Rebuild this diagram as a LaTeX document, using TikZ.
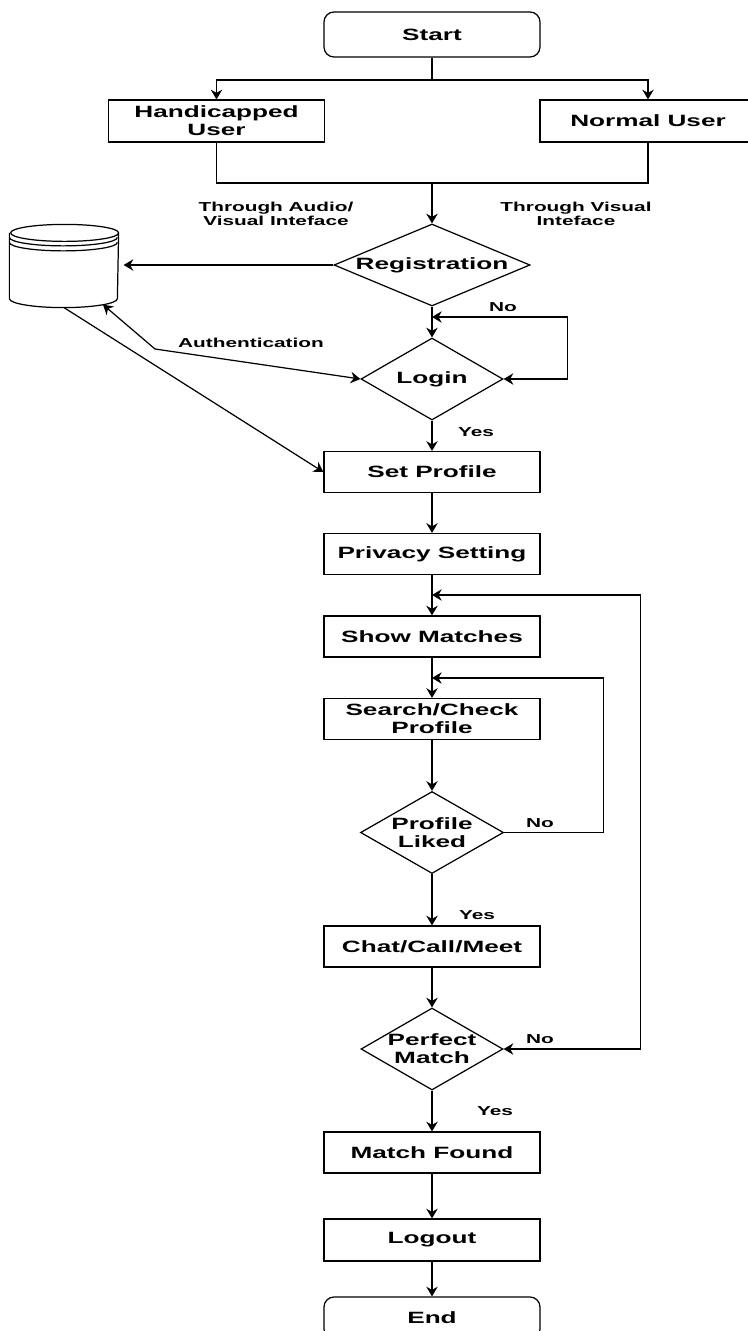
\documentclass[tikz,border=0pt]{standalone}
\usepackage{fontspec}
\setmainfont{Liberation Sans}[FakeStretch=1.6]
\usetikzlibrary{shapes.geometric,arrows.meta}
\tikzset{
	box/.style={draw, minimum width=4.32cm, minimum height=0.82cm, inner sep=0pt, align=center, font=\fontsize{9.3}{10.3}\selectfont\bfseries},
	term/.style={box, rounded corners=0.2cm, minimum height=0.9cm},
	dec/.style={draw, diamond, inner sep=0pt, minimum width=#1, minimum height=1.64cm},
	dtxt/.style={align=center, font=\fontsize{9.3}{10.3}\selectfont\bfseries},
	lbl/.style={align=center, font=\fontsize{7.4}{8.2}\selectfont\bfseries}
}
\begin{document}
\begin{tikzpicture}[line width=0.7pt, >={Stealth[length=5.5pt,width=6.5pt]}]
		\useasboundingbox (0,0) rectangle (14.96,-26.62);
		
		\node[term] (start) at (8.64,-0.69) {Start};
		\node[box, minimum height=0.84cm] (handi) at (4.33,-2.42) {Handicapped\\User};
		\node[box, minimum height=0.84cm] (normal) at (12.96,-2.42) {Normal User};
		\coordinate (split) at (8.64,-1.60); \coordinate (merge) at (8.64,-3.66);
		\draw (start) -- (split); \draw[->] (split) -| (handi.north); \draw[->] (split) -| (normal.north);
		\draw (handi.south) |- (merge) -| (normal.south);
		\node[lbl] at (5.52,-4.28) {Through Audio/\\Visual Inteface};
		\node[lbl] at (11.52,-4.28) {Through Visual\\Inteface};
		
		\node[dec=3.92cm, label={[dtxt]center:Registration}] (reg) at (8.64,-5.30) {};
		\draw[->] (merge) -- (reg);
		
		\node[minimum width=2.16cm, minimum height=1.64cm, inner sep=0pt] (db) at (1.28,-5.32) {};
		\draw ([yshift=-0.17cm]db.north west) -- ([yshift=0.18cm]db.south west) arc[start angle=180, end angle=360, x radius=1.08cm, y radius=0.18cm] -- ([yshift=-0.17cm]db.north east) arc[start angle=0, end angle=360, x radius=1.08cm, y radius=0.17cm];
		\foreach \d in {0.26,0.36} \draw ([yshift=-\d cm]db.north west) arc[start angle=180, end angle=360, x radius=1.08cm, y radius=0.17cm];
		\draw[->, shorten >=0.1cm] (reg.west) -- (reg.west -| db.east);
		
		\node[dec=2.84cm, label={[dtxt]center:Login}] (login) at (8.64,-7.58) {};
		\coordinate (nol) at (8.64,-6.34);
		\draw[->] (reg) -- (login);
		\draw[<->] (nol) -| ([xshift=1.28cm]login.east) -- (login.east); \node[lbl] at (10.06,-6.14) {No};
		\draw[<->] (login.west) -- (3.10,-6.98) -- ([xshift=0.78cm, yshift=0.06cm]db.south);
		\node[lbl] at (5.02,-6.86) {Authentication};
		
		\node[box] (setp) at (8.64,-9.44) {Set Profile};
		\draw[->] (login) -- (setp); \node[lbl] at (9.52,-8.64) {Yes};
		\draw[->] (db.south) -- (setp.west);
		
		\node[box] (priv) at (8.64,-11.08) {Privacy Setting};
		\node[box] (show) at (8.64,-12.73) {Show Matches};
		\node[box] (search) at (8.64,-14.38) {Search/Check\\Profile};
		\draw[->] (setp) -- (priv); \draw[->] (priv) -- (show); \draw[->] (show) -- (search);
		
		\node[dec=2.86cm, label={[dtxt]center:Profile\\Liked}] (liked) at (8.64,-16.65) {};
		\coordinate (inl) at (8.64,-13.56);
		\draw[->] (search) -- (liked);
		\draw[->] (liked.east) -- ++(1.99,0) |- (inl); \node[lbl] at (10.80,-16.46) {No};
		
		\node[box] (chat) at (8.64,-18.93) {Chat/Call/Meet};
		\draw[->] (liked) -- (chat); \node[lbl] at (9.54,-18.30) {Yes};
		
		\node[dec=2.84cm, label={[dtxt]center:Perfect\\Match}] (perfect) at (8.64,-20.98) {};
		\coordinate (outl) at (8.64,-11.90);
		\draw[->] (chat) -- (perfect);
		\draw[<->] (outl) -| ([xshift=2.74cm]perfect.east) -- (perfect.east); \node[lbl] at (10.80,-20.78) {No};
		
		\node[box] (found) at (8.64,-23.05) {Match Found};
		\node[box, minimum height=0.84cm] (logout) at (8.64,-24.80) {Logout};
		\node[term, minimum height=0.84cm] (end) at (8.64,-26.36) {End};
		\draw[->] (perfect) -- (found); \node[lbl] at (9.90,-22.22) {Yes};
		\draw[->] (found) -- (logout); \draw[->] (logout) -- (end);
\end{tikzpicture}
\end{document}
